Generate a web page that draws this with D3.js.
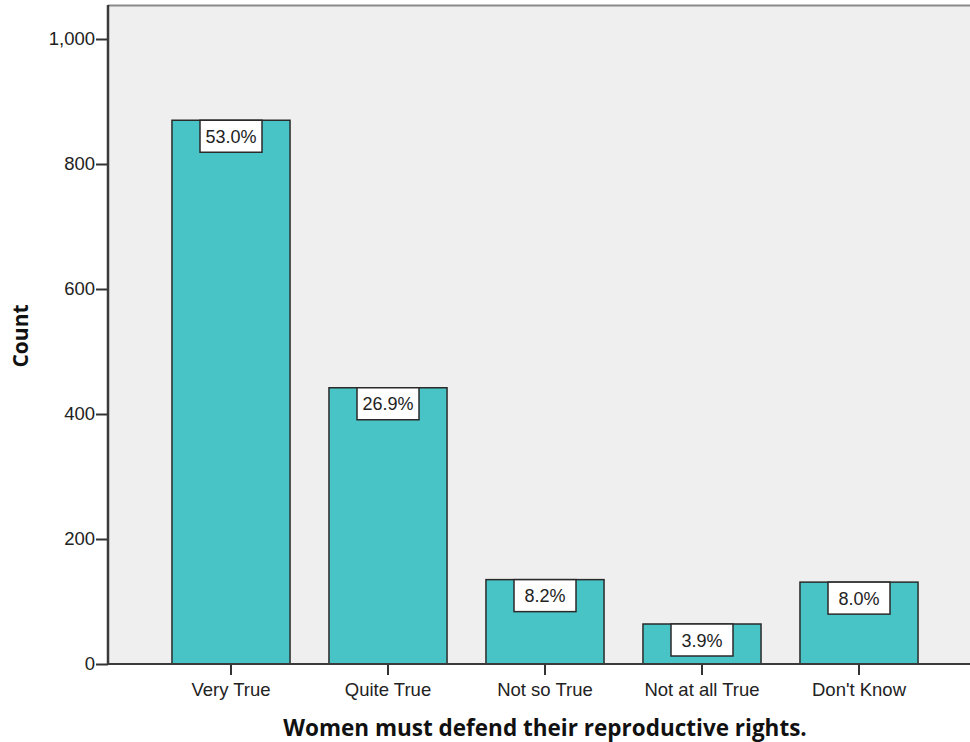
<!DOCTYPE html>
<html><head><meta charset="utf-8">
<script src="https://cdn.jsdelivr.net/npm/d3@7"></script>
<style>body{margin:0;background:#fff}svg{display:block}text{font-family:"Liberation Sans",Arial,sans-serif}</style>
</head><body>
<svg id="c" width="970" height="742"></svg>
<script>
const categories = ["Very True","Quite True","Not so True","Not at all True","Don't Know"];
const counts = [870, 442, 135, 64, 131];
const percentLabels = ["53.0%","26.9%","8.2%","3.9%","8.0%"];
const yTicks = [0,200,400,600,800,1000];

const svg = d3.select("#c");
const x0 = 108, yTop = 5, yBottom = 664;
const y = d3.scaleLinear().domain([0,1000]).range([yBottom, 39]);
const x = d3.scaleBand().domain(categories).range([152.5, 937.5]).paddingInner(0.248).paddingOuter(0.124);

// plot background
svg.append("rect").attr("x",x0).attr("y",yTop).attr("width",970-x0).attr("height",yBottom-yTop).attr("fill","#efefef");
svg.append("line").attr("x1",x0).attr("x2",970).attr("y1",yTop+0.5).attr("y2",yTop+0.5).attr("stroke","#8a8a8a").attr("stroke-width",2);

// bars
svg.selectAll("rect.bar").data(counts).enter().append("rect").attr("class","bar")
  .attr("x",(d,i)=>x(categories[i])).attr("width",x.bandwidth())
  .attr("y",d=>y(d)).attr("height",d=>yBottom-y(d))
  .attr("fill","#48c3c6").attr("stroke","#2a2a2a").attr("stroke-width",1.5);

// labels
const lw=62, lh=32;
const lg = svg.selectAll("g.lab").data(counts).enter().append("g").attr("class","lab")
  .attr("transform",(d,i)=>`translate(${x(categories[i])+x.bandwidth()/2},${y(d)})`);
lg.append("rect").attr("x",-lw/2).attr("y",0).attr("width",lw).attr("height",lh)
  .attr("fill","#fff").attr("stroke","#2a2a2a").attr("stroke-width",1.5);
lg.append("text").attr("x",0).attr("y",lh/2+6.5).attr("text-anchor","middle")
  .attr("font-size",18).attr("fill","#222").text((d,i)=>percentLabels[i]);

// y axis
const ya = svg.append("g").attr("transform",`translate(${x0},0)`)
  .call(d3.axisLeft(y).tickValues(yTicks).tickSize(12).tickPadding(1).tickFormat(d3.format(",")));
ya.select(".domain").remove();
ya.selectAll(".tick line").attr("stroke","#333").attr("stroke-width",2);
ya.selectAll(".tick text").attr("font-size",18.5).attr("fill","#222");
svg.append("line").attr("x1",x0).attr("x2",x0).attr("y1",yTop).attr("y2",yBottom+1).attr("stroke","#3a3a3a").attr("stroke-width",2.5);

// x axis
const xa = svg.append("g").attr("transform",`translate(0,${yBottom})`)
  .call(d3.axisBottom(x).tickSize(11).tickPadding(8));
xa.select(".domain").remove();
xa.selectAll(".tick line").attr("stroke","#333").attr("stroke-width",2);
xa.selectAll(".tick text").attr("font-size",18.5).attr("fill","#222");
svg.append("line").attr("x1",x0-1).attr("x2",970).attr("y1",yBottom).attr("y2",yBottom).attr("stroke","#3a3a3a").attr("stroke-width",2);

// axis titles
svg.append("text").attr("x",545).attr("y",736).attr("text-anchor","middle")
  .style("font-family","'Open Sans', sans-serif")
  .attr("font-size",22.5).attr("font-weight","bold").attr("fill","#111").text("Women must defend their reproductive rights.");
svg.append("text").attr("transform","translate(28,336) rotate(-90)").attr("text-anchor","middle")
  .style("font-family","'Open Sans', sans-serif")
  .attr("font-size",21).attr("font-weight","bold").attr("fill","#111").text("Count");
</script>
</body></html>
